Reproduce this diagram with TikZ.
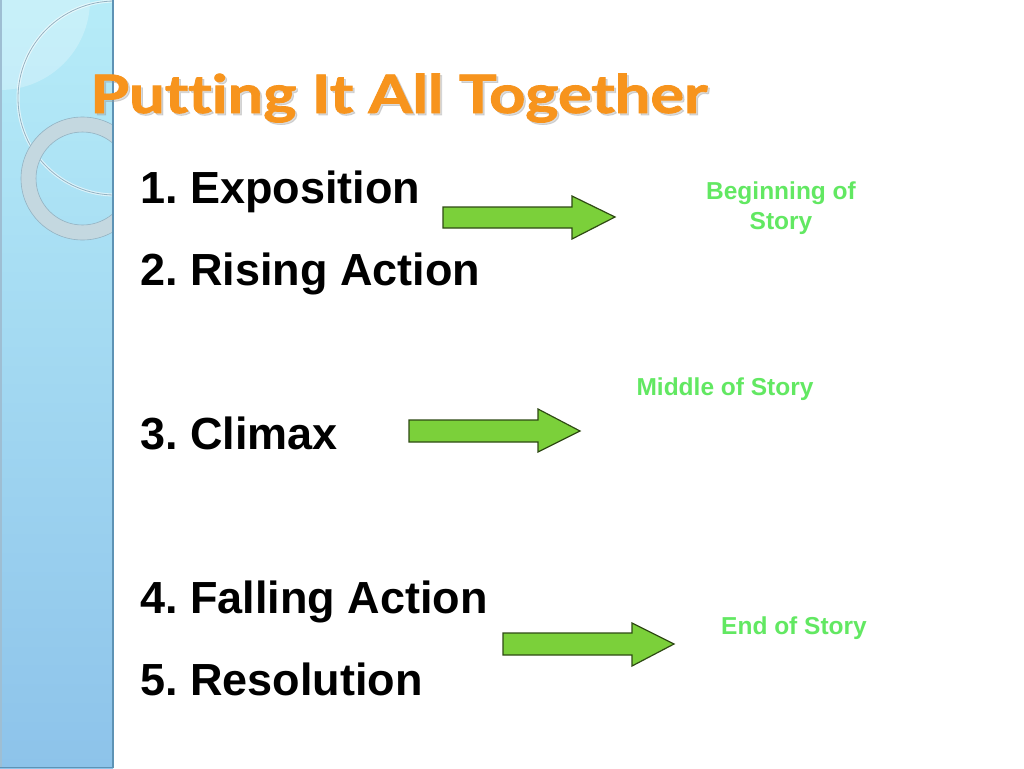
\documentclass[tikz,border=0pt]{standalone}
\usepackage{fontspec}
\setmainfont{Liberation Sans}
\newfontfamily\titlefont{Lato}[Ligatures={NoCommon}, BoldFeatures={FakeBold=1.5}]
\frenchspacing
\definecolor{paneltop}{HTML}{B6ECF8}
\definecolor{panelbot}{HTML}{8DC3EA}
\definecolor{paneledge}{HTML}{5E93B5}
\definecolor{ringfill}{HTML}{C4D8E0}
\definecolor{ringline}{HTML}{93B2C2}
\definecolor{titleorange}{HTML}{F7941D}
\definecolor{arrowfill}{HTML}{7BD03A}
\definecolor{arrowline}{HTML}{2F4A14}
\definecolor{labelgreen}{HTML}{62E862}
\tikzset{
  itemtext/.style={anchor=base west, inner sep=0pt, font=\bfseries\fontsize{45}{48}\selectfont, text=black},
  labeltext/.style={inner sep=0pt, align=center, font=\bfseries\fontsize{24.5}{30}\selectfont, text=labelgreen},
  garrow/.style={fill=arrowfill, draw=arrowline, line width=1.2pt, line join=miter},
  titletext/.style={anchor=base west, inner sep=0pt, font=\titlefont\bfseries\fontsize{53}{60}\selectfont},
}
\begin{document}
\begin{tikzpicture}[x=1pt,y=-1pt]
\useasboundingbox (0,0) rectangle (1024,768);
\fill[white] (0,0) rectangle (1024,768);
% left panel
\shade[top color=paneltop, bottom color=panelbot] (0,0) rectangle (113,768);
\begin{scope}
\clip (0,0) rectangle (113,768);
\fill[white, opacity=0.25] (0,0) circle (90);
\draw[white, line width=3pt, opacity=0.6] (115,98) circle (97);
\draw[ringline, line width=0.8pt] (115,98) circle (97);
\draw[ringfill, line width=15pt] (82.5,178.5) circle (54);
\draw[ringline, line width=0.6pt] (82.5,178.5) circle (61.5) (82.5,178.5) circle (46.5);
\end{scope}
\draw[paneledge, line width=1.5pt] (113,0) -- (113,768);
\draw[paneledge!60, line width=2pt] (1,0) -- (1,768);
\draw[paneledge, line width=1pt] (0,767.5) -- (113,767.5);
% title
\node[titletext, text=black!40, opacity=0.35] at (92,115) {\scalebox{1.19}[1]{Putting It All Together}};
\node (title) [titletext, text=titleorange] at (90,113) {\scalebox{1.19}[1]{Putting It All Together}};
% items
\node (i1) [itemtext] at (140,203) {1. Exposition};
\node (i2) [itemtext] at (140,285) {2. Rising Action};
\node (i3) [itemtext] at (140,449) {3. Climax};
\node (i4) [itemtext] at (140,613) {4. Falling Action};
\node (i5) [itemtext] at (140,695) {5. Resolution};
% arrows
\draw[garrow] (443,207) -- (572,207) -- (572,196) -- (615,217) -- (572,239) -- (572,228) -- (443,228) -- cycle;
\draw[garrow] (409,420) -- (538,420) -- (538,409) -- (580,431) -- (538,452) -- (538,442) -- (409,442) -- cycle;
\draw[garrow] (503,633) -- (632,633) -- (632,623) -- (674,644) -- (632,666) -- (632,655) -- (503,655) -- cycle;
% labels
\node (l1) [labeltext] at (781,208) {Beginning of\\Story};
\node (l2) [labeltext] at (725,389) {Middle of Story};
\node (l3) [labeltext] at (794,628) {End of Story};
\end{tikzpicture}
\end{document}
